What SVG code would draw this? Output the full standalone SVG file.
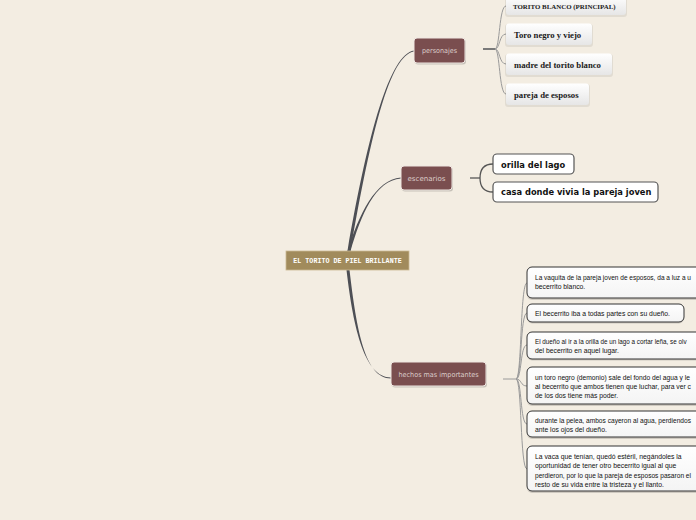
<svg xmlns="http://www.w3.org/2000/svg" width="696" height="520" viewBox="0 0 696 520">
<style>
.main{fill:#a18b5c;stroke:#cbb993;stroke-width:0.8}
.mt{font-family:"Liberation Mono",monospace;font-weight:bold;font-size:6.7px;fill:#ffffff;text-anchor:middle}
.topic{fill:#7a4e4f;stroke:#efe7e2;stroke-width:1}
.tsh{fill:#000;opacity:0.18}
.tt{font-family:"DejaVu Sans",sans-serif;font-size:7px;fill:#dccdca;text-anchor:middle}
.pbox{fill:url(#wg)}
.psh{fill:#000;opacity:0.07}
.pt{font-family:"Liberation Serif",serif;font-weight:bold;font-size:8.7px;fill:#1a1a1a}
.ebox{fill:#ffffff;stroke:#555555;stroke-width:1.2}
.et{font-family:"DejaVu Sans",sans-serif;font-weight:bold;font-size:8.3px;fill:#111111}
.hbox{fill:url(#wg2);stroke:#333333;stroke-width:1}
.hsh{fill:#000;opacity:0.15}
.ht{font-family:"Liberation Sans",Arial,sans-serif;font-size:6.8px;fill:#111111}
.br{fill:#4d4f55}
.fk{fill:none;stroke:#9a9a9a;stroke-width:1}
.stem{fill:none;stroke:#7a7a7a;stroke-width:2}
.efk{fill:none;stroke:#555555;stroke-width:1.3}
</style>
<defs>
<linearGradient id="wg" x1="0" y1="0" x2="0" y2="1">
<stop offset="0" stop-color="#ffffff"/>
<stop offset="1" stop-color="#e6e6e6"/>
</linearGradient>
<linearGradient id="wg2" x1="0" y1="0" x2="0" y2="1">
<stop offset="0" stop-color="#ffffff"/>
<stop offset="1" stop-color="#f4f4f4"/>
</linearGradient>
</defs>
<rect x="0" y="0" width="696" height="520" fill="#f3ede2"/>

<g id="connectors">
<path class="br" d="M347.5,251 C368.5,130 390,54.5 414,50.5 L414,51.5 C390,55.5 371.5,130 350.5,251 Z"/>
<path class="br" d="M347.5,251 C359,215 375,179.5 401,177.5 L401,178.5 C375,180.5 361,215 350.5,251 Z"/>
<path class="br" d="M346.5,270 C353.5,330 365,377.5 391,377.5 L391,378.5 C365,378.5 356.5,330 349.5,270 Z"/>
<path class="stem" d="M483,49 L495,49"/>
<path class="fk" d="M495,49 C500,49 499,6 506,6"/>
<path class="fk" d="M495,49 C500,49 499,34 506,34"/>
<path class="fk" d="M495,49 C500,49 499,64 506,64"/>
<path class="fk" d="M495,49 C500,49 499,94 506,94"/>
<path class="efk" d="M470,178 L480,178"/>
<path class="efk" d="M493,164 C483,164 480,170 480,178 C480,186 483,192 493,192"/>
<path class="fk" stroke="#555" d="M503,379 L516,379"/>
<path class="fk" d="M516,379 C522,379 520,283 527,283"/>
<path class="fk" d="M516,379 C522,379 520,313 527,313"/>
<path class="fk" d="M516,379 C522,379 520,345 527,345"/>
<path class="fk" d="M516,379 C522,379 520,386 527,386"/>
<path class="fk" d="M516,379 C522,379 520,424 527,424"/>
<path class="fk" d="M516,379 C522,379 520,469 527,469"/>
</g>

<g id="center">
<rect class="main" x="286" y="251" width="123" height="19"/>
<text class="mt" x="347.5" y="263">EL TORITO DE PIEL BRILLANTE</text>
</g>

<g id="personajes">
<rect class="tsh" x="415" y="39.5" width="51" height="25" rx="3"/>
<rect class="topic" x="414" y="38" width="51" height="25" rx="3"/>
<text class="tt" x="439.5" y="53" textLength="35" lengthAdjust="spacingAndGlyphs">personajes</text>
</g>

<g id="escenarios">
<rect class="tsh" x="402" y="167.5" width="51" height="24" rx="3"/>
<rect class="topic" x="401" y="166" width="51" height="24" rx="3"/>
<text class="tt" x="426.5" y="181" textLength="38" lengthAdjust="spacingAndGlyphs">escenarios</text>
</g>

<g id="hechos">
<rect class="tsh" x="392" y="363.5" width="95" height="24" rx="3"/>
<rect class="topic" x="391" y="362" width="95" height="24" rx="3"/>
<text class="tt" x="438.5" y="377" textLength="80" lengthAdjust="spacingAndGlyphs">hechos mas importantes</text>
</g>

<g id="p1">
<rect class="psh" x="505" y="-4" width="122" height="21" rx="3"/>
<rect class="pbox" x="506" y="-5" width="120" height="20" rx="3"/>
<text class="pt" x="513" y="9" style="font-size:6.9px">TORITO BLANCO (PRINCIPAL)</text>
</g>
<g id="p2">
<rect class="psh" x="505" y="24" width="88" height="23" rx="3"/>
<rect class="pbox" x="506" y="23.5" width="86" height="21.5" rx="3"/>
<text class="pt" x="514" y="37.5">Toro negro y viejo</text>
</g>
<g id="p3">
<rect class="psh" x="505" y="54" width="108" height="23" rx="3"/>
<rect class="pbox" x="506" y="53.5" width="106" height="21.5" rx="3"/>
<text class="pt" x="514" y="67.5">madre del torito blanco</text>
</g>
<g id="p4">
<rect class="psh" x="505" y="84" width="85" height="23" rx="3"/>
<rect class="pbox" x="506" y="83.5" width="83" height="21.5" rx="3"/>
<text class="pt" x="514" y="97.5">pareja de esposos</text>
</g>

<g id="e1">
<rect class="ebox" x="493" y="154" width="81" height="20" rx="4"/>
<text class="et" x="501" y="167.5">orilla del lago</text>
</g>
<g id="e2">
<rect class="ebox" x="493" y="182" width="165" height="20" rx="4"/>
<text class="et" x="501" y="195">casa donde vivia la pareja joven</text>
</g>

<g id="h1">
<rect class="hsh" x="527" y="269" width="180" height="31" rx="5"/>
<rect class="hbox" x="527" y="267" width="180" height="31" rx="5"/>
<text class="ht" x="535" y="280" textLength="156" lengthAdjust="spacingAndGlyphs">La vaquita de la pareja joven de esposos, da a luz a u</text>
<text class="ht" x="535" y="289">becerrito blanco.</text>
</g>
<g id="h2">
<rect class="hsh" x="527" y="305.5" width="157" height="18" rx="5"/>
<rect class="hbox" x="527" y="304" width="157" height="18" rx="5"/>
<text class="ht" x="535" y="315.5">El becerrito iba a todas partes con su dueño.</text>
</g>
<g id="h3">
<rect class="hsh" x="527" y="333.5" width="180" height="27" rx="5"/>
<rect class="hbox" x="527" y="332" width="180" height="27" rx="5"/>
<text class="ht" x="535" y="343.5" style="font-size:6.3px">El dueño al ir a la orilla de un lago a cortar leña, se olv</text>
<text class="ht" x="535" y="352.5">del becerrito en aquel lugar.</text>
</g>
<g id="h4">
<rect class="hsh" x="527" y="369" width="180" height="37" rx="5"/>
<rect class="hbox" x="527" y="367" width="180" height="37" rx="5"/>
<text class="ht" x="535" y="379.5" textLength="155" lengthAdjust="spacingAndGlyphs">un toro negro (demonio) sale del fondo del agua y le</text>
<text class="ht" x="535" y="388.5" textLength="156" lengthAdjust="spacingAndGlyphs">al becerrito que ambos tienen  que luchar, para ver c</text>
<text class="ht" x="535" y="397.5">de los dos tiene más poder.</text>
</g>
<g id="h5">
<rect class="hsh" x="527" y="413" width="180" height="26" rx="5"/>
<rect class="hbox" x="527" y="411" width="180" height="26" rx="5"/>
<text class="ht" x="535" y="423" textLength="156" lengthAdjust="spacingAndGlyphs">durante la pelea, ambos cayeron al agua, perdiendos</text>
<text class="ht" x="535" y="432">ante los ojos del dueño.</text>
</g>
<g id="h6">
<rect class="hsh" x="527" y="448" width="180" height="45" rx="5"/>
<rect class="hbox" x="527" y="446" width="180" height="45" rx="5"/>
<text class="ht" x="535" y="458.5">La vaca que tenían, quedó estéril, negándoles la</text>
<text class="ht" x="535" y="468">oportunidad de tener otro becerrito igual al que</text>
<text class="ht" x="535" y="477.5" textLength="156" lengthAdjust="spacingAndGlyphs">perdieron, por lo que la pareja de esposos pasaron el</text>
<text class="ht" x="535" y="486.5">resto de su vida entre la tristeza y el llanto.</text>
</g>
</svg>
